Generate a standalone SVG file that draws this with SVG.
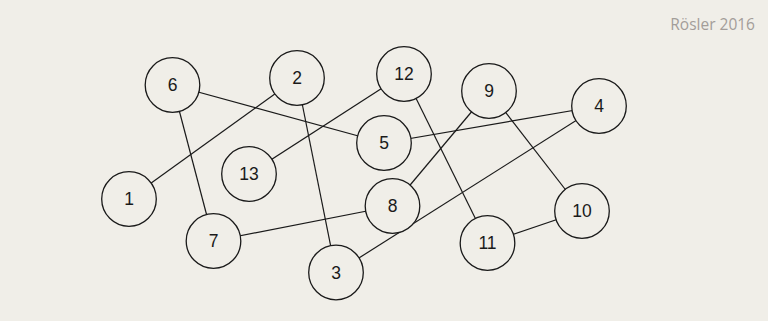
<svg xmlns="http://www.w3.org/2000/svg" width="768" height="321" viewBox="0 0 768 321">
<style>
.n circle{fill:#f0eee8;stroke:#1a1a1a;stroke-width:1.3}
.n text{font-family:"Liberation Sans",Arial,sans-serif;font-size:17.5px;fill:#1a1a1a;text-anchor:middle;dominant-baseline:central}
#edges line{stroke:#1a1a1a;stroke-width:1.2}
.credit{font-family:"Open Sans","Noto Sans",sans-serif;font-size:15.5px;fill:#a39d99;text-anchor:end}
</style>
<rect width="768" height="321" fill="#f0eee8"/>
<text class="credit" x="755" y="30">Rösler 2016</text>
<g id="edges">
<line x1="172.5" y1="85" x2="384" y2="143"/>
<line x1="172.5" y1="85" x2="213.5" y2="241"/>
<line x1="297" y1="78" x2="129" y2="199"/>
<line x1="297" y1="78" x2="336" y2="272.5"/>
<line x1="404" y1="74" x2="249" y2="174"/>
<line x1="404" y1="74" x2="487.5" y2="243"/>
<line x1="489" y1="91" x2="392.5" y2="206"/>
<line x1="489" y1="91" x2="582" y2="211"/>
<line x1="599" y1="106" x2="384" y2="143"/>
<line x1="599" y1="106" x2="336" y2="272.5"/>
<line x1="392.5" y1="206" x2="213.5" y2="241"/>
<line x1="582" y1="211" x2="487.5" y2="243"/>
</g>
<g id="n6" class="n"><circle cx="172.5" cy="85" r="27.3"/><text x="172.5" y="85">6</text></g>
<g id="n2" class="n"><circle cx="297" cy="78" r="27.3"/><text x="297" y="78">2</text></g>
<g id="n12" class="n"><circle cx="404" cy="74" r="27.3"/><text x="404" y="74">12</text></g>
<g id="n9" class="n"><circle cx="489" cy="91" r="27.3"/><text x="489" y="91">9</text></g>
<g id="n4" class="n"><circle cx="599" cy="106" r="27.3"/><text x="599" y="106">4</text></g>
<g id="n5" class="n"><circle cx="384" cy="143" r="27.3"/><text x="384" y="143">5</text></g>
<g id="n13" class="n"><circle cx="249" cy="174" r="27.3"/><text x="249" y="174">13</text></g>
<g id="n1" class="n"><circle cx="129" cy="199" r="27.3"/><text x="129" y="199">1</text></g>
<g id="n8" class="n"><circle cx="392.5" cy="206" r="27.3"/><text x="392.5" y="206">8</text></g>
<g id="n10" class="n"><circle cx="582" cy="211" r="27.3"/><text x="582" y="211">10</text></g>
<g id="n7" class="n"><circle cx="213.5" cy="241" r="27.3"/><text x="213.5" y="241">7</text></g>
<g id="n11" class="n"><circle cx="487.5" cy="243" r="27.3"/><text x="487.5" y="243">11</text></g>
<g id="n3" class="n"><circle cx="336" cy="272.5" r="27.3"/><text x="336" y="272.5">3</text></g>
</svg>
